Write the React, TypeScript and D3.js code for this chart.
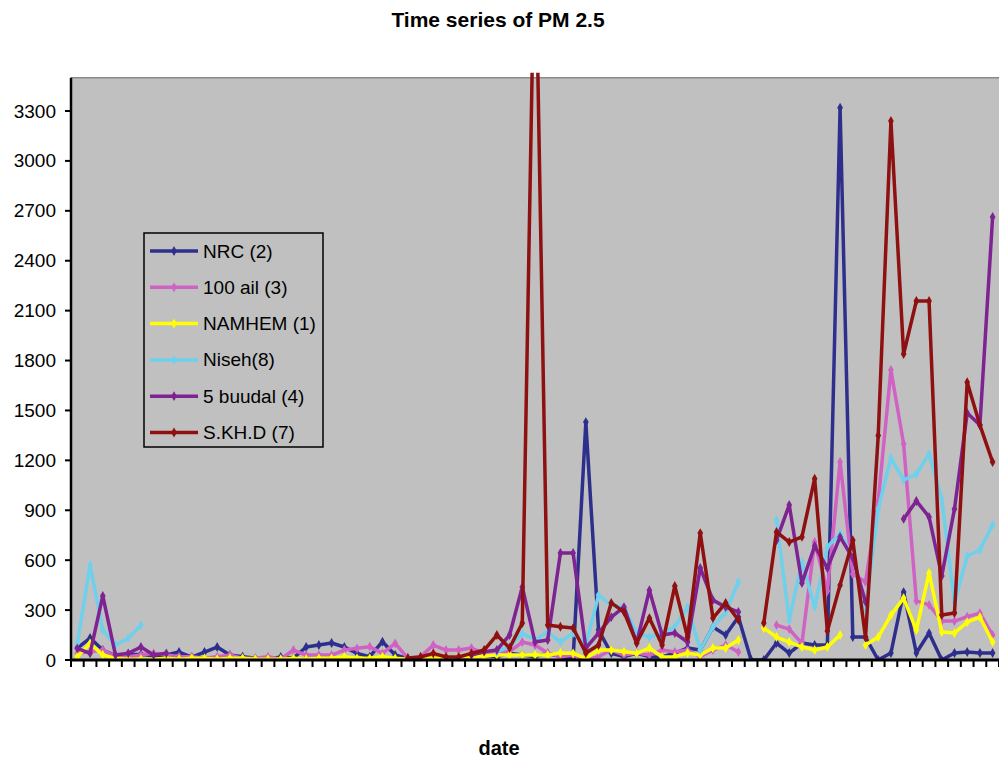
import React from "react";
import * as d3 from "d3";

// ---- data ----
const seriesNames = ["NRC (2)", "100 ail (3)", "NAMHEM (1)", "Niseh(8)", "5 buudal (4)", "S.KH.D (7)"];
const seriesColors = ["#2E2F8C", "#D062C4", "#FFFF00", "#6FD0EC", "#7E2391", "#8E1010"];

const nrc = [72,132,60,25,30,35,25,30,48,18, 48,78,30,20,10,5,18,12,78,90, 102,78,40,20,110,30,10,5,10,15, 10,20,30,20,40,30,20,40,20,10, 1430,180,40,20,40,20,18,42,72,60, 198,150,258,0,0,102,42,102,90,90, 3320,138,138,0,42,408,42,162,0,42, 48,42,42];
const ail100 = [40,50,60,20,20,30,40,30,20,20, 10,20,30,10,10,20,5,60,30,30, 30,60,70,80,40,100,10,20,90,60, 60,72,40,50,50,108,90,42,20,30, 0,20,60,30,42,30,60,48,60,20, 60,90,48,null,null,210,186,100,709,415, 1190,517,469,956,1743,1298,355,331,234,234, 260,282,150];
const namhem = [20,100,30,10,5,5,5,10,5,10, 10,5,10,10,5,5,5,10,5,10, 10,20,10,10,20,10,5,10,10,15, 20,20,25,30,30,30,30,30,42,40, 10,60,60,50,40,72,18,20,42,30, 72,72,120,null,192,138,108,78,60,78, 150,null,90,138,270,372,180,523,168,162, 228,258,108];
const niseh = [100,570,180,90,130,210, null,null,null,null,null,null,null,null,null,null, null,null,null,null,null,null,null,null,null,null, null,null,null,null,null,null,null, 50,80,160,120,168,108,162,90,390,330,318,162,138,162,200,318,60,198,289,469, null,null, 842,240,589,318,679,760,625,300,908,1214,1082,1118,1238,968,343,625,661,812];
const buudal5 = [70,40,385,30,40,78,30,40, null,null,null,null,null,null,null,null,null,null,null,null,null,null,null,null,null,null,null,null,null,null,null, 30,50, 60,150,439,108,120,643,643,72,162,258,318,102,420,150,162, 108,553,360,318,289, null,null, 720,932,463,685,553,740,613,350, null,null, 848,956,860,505,908,1485,1412,2663];
const skhd = [null,null,null,null,null,null,null,null,null,null,null,null,null,null,null,null,null,null,null,null,null,null,null,null,null,null, 12,18,40,18,18,40,60,150,72,222, 4500, 210,200,192,42,90,343,289,102,252, 90,445,138,763,252,343,240, null, 222,770,709,740,1090,174,450,720,135,1349,3240,1839,2158,2158,270,282,1670,1412,1190];

const yTicks = [0,300,600,900,1200,1500,1800,2100,2400,2700,3000,3300];
const seriesValues = [nrc, ail100, namhem, niseh, buudal5, skhd];

const W = 999, H = 762;
const left = 71, bottom = 660;
const nCat = nrc.length;
const step = 12.712;
const right = left + nCat * step;
const yMax = 3500;
const top = bottom - yMax * (549 / 3300);

export default function App() {
  const cats = d3.range(nCat);
  const x = d3.scaleBand<number>().domain(cats).range([left, right]).padding(0);
  const y = d3.scaleLinear().domain([0, yMax]).range([bottom, top]);
  const cx = (i: number) => (x(i) as number) + x.bandwidth() / 2;
  const line = d3.line<number | null>()
    .defined(d => d !== null)
    .x((_, i) => cx(i))
    .y(d => y(d as number));
  const diamond = d3.symbol().type(d3.symbolDiamond).size(28)();
  const font = "Arial, 'Liberation Sans', sans-serif";
  const legendY = (k: number) => 251 + k * 36.3;

  return (
    <svg width={W} height={H} style={{ position: "absolute", left: 0, top: 0, background: "#fff" }} fontFamily={font}>
      <defs>
        <clipPath id="plotclip">
          <rect x={left} y={top - 5} width={W - left} height={bottom - top + 5} />
        </clipPath>
      </defs>
      <text x={498} y={27} textAnchor="middle" fontWeight="bold" fontSize={21}>Time series of PM 2.5</text>
      <rect x={left} y={top} width={right - left} height={bottom - top} fill="#C0C0C0" />
      <line x1={left} x2={W} y1={top} y2={top} stroke="#8a8a8a" strokeWidth={1.5} />
      {/* y axis */}
      <line x1={left} x2={left} y1={top} y2={bottom} stroke="#000" strokeWidth={2.5} />
      {yTicks.map(t => (
        <g key={t}>
          <line x1={left - 6} x2={left} y1={y(t)} y2={y(t)} stroke="#000" strokeWidth={2} />
          <text x={56} y={y(t)} textAnchor="end" dominantBaseline="central" fontSize={19}>{t}</text>
        </g>
      ))}
      {/* series */}
      <g clipPath="url(#plotclip)">
        {seriesValues.map((vals, s) => (
          <g key={s}>
            <path d={line(vals) || ""} fill="none" stroke={seriesColors[s]} strokeWidth={3.5} strokeLinejoin="round" />
            {vals.map((v, i) => v === null ? null : (
              <path key={i} d={diamond as string} transform={`translate(${cx(i)},${y(v)})`} fill={seriesColors[s]} />
            ))}
          </g>
        ))}
      </g>
      {/* x axis */}
      <line x1={left - 1} x2={W} y1={bottom} y2={bottom} stroke="#000" strokeWidth={3} />
      {d3.range(nCat + 1).map(k => (
        <line key={k} x1={left + k * step} x2={left + k * step} y1={bottom} y2={bottom + 7} stroke="#000" strokeWidth={2} />
      ))}
      <text x={499} y={755} textAnchor="middle" fontWeight="bold" fontSize={20}>date</text>
      {/* legend */}
      <rect x={144} y={233} width={179} height={214} fill="#C0C0C0" stroke="#000" strokeWidth={1.5} />
      {seriesNames.map((name, k) => (
        <g key={name}>
          <line x1={150} x2={198} y1={legendY(k)} y2={legendY(k)} stroke={seriesColors[k]} strokeWidth={3.5} />
          <path d={diamond as string} transform={`translate(174,${legendY(k)})`} fill={seriesColors[k]} />
          <text x={203} y={legendY(k)} dominantBaseline="central" fontSize={19}>{name}</text>
        </g>
      ))}
    </svg>
  );
}
